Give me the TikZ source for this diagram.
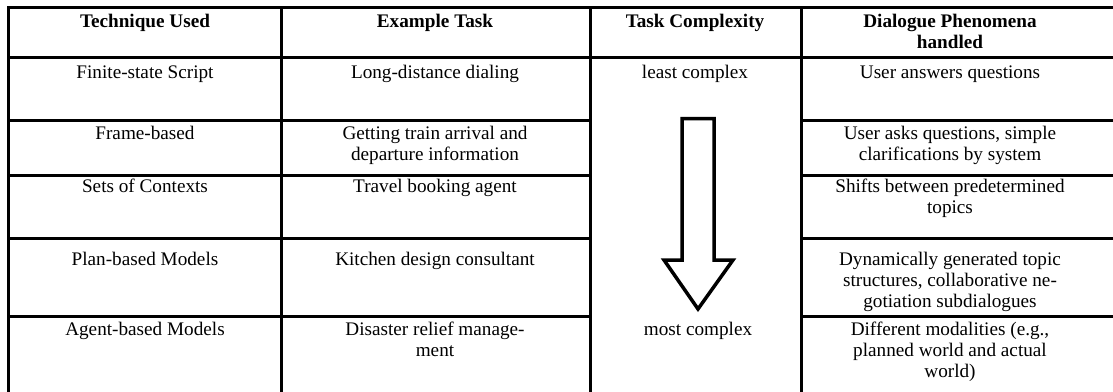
\documentclass[tikz,border=0pt]{standalone}
\usepackage{fontspec}
\setmainfont{Liberation Serif}
\begin{document}
\begin{tikzpicture}[x=1pt,y=1pt,
  grid/.style={line width=3pt, line cap=rect},
  cell/.style={anchor=north, align=center, inner sep=0pt, font=\fontsize{19.2}{21}\selectfont},
  head/.style={cell, font=\fontsize{19.2}{21}\selectfont\bfseries},
  bigarrow/.style={line width=3.5pt, line join=miter, fill=white}]
\useasboundingbox (0,0) rectangle (1113,-391);
% frame and column rules
\draw[grid] (8.5,-393) -- (8.5,-7.5) -- (1115,-7.5);
\draw[grid] (8.5,-57) -- (1115,-57);
\foreach \yy in {120,175,238,316}{
  \draw[grid] (8.5,-\yy) -- (590,-\yy);
  \draw[grid] (801,-\yy) -- (1115,-\yy);
}
\foreach \xx in {281,590,801}{
  \draw[grid] (\xx,-7.5) -- (\xx,-393);
}
% header (north of first-line strut = baseline - 14.7)
\node[head] (h1) at (145,-12.3) {\strut Technique Used};
\node[head] (h2) at (435,-12.3) {\strut Example Task};
\node[head] (h3) at (695,-12.3) {\strut Task Complexity};
\node[head] (h4) at (950,-12.3) {\strut Dialogue Phenomena\\handled};
% column 1
\node[cell] (t1) at (145,-63.3) {\strut Finite-state Script};
\node[cell] (t2) at (145,-124.3) {\strut Frame-based};
\node[cell] (t3) at (145,-177.3) {\strut Sets of Contexts};
\node[cell] (t4) at (145,-250.3) {\strut Plan-based Models};
\node[cell] (t5) at (145,-320.3) {\strut Agent-based Models};
% column 2
\node[cell] (e1) at (435,-63.3) {\strut Long-distance dialing};
\node[cell] (e2) at (435,-124.3) {\strut Getting train arrival and\\departure information};
\node[cell] (e3) at (435,-177.3) {\strut Travel booking agent};
\node[cell] (e4) at (435,-250.3) {\strut Kitchen design consultant};
\node[cell] (e5) at (435,-320.3) {\strut Disaster relief manage-\\ment};
% column 3
\node[cell] (c1) at (695,-63.3) {\strut least complex};
\node[cell] (c5) at (698,-320.3) {\strut most complex};
\draw[bigarrow] (682,-118.5) -- (714,-118.5) -- (714,-260) -- (733,-260)
  -- (698,-309) -- (664,-260) -- (682,-260) -- cycle;
% column 4
\node[cell] (d1) at (950,-63.3) {\strut User answers questions};
\node[cell] (d2) at (950,-124.3) {\strut User asks questions, simple\\clarifications by system};
\node[cell] (d3) at (950,-177.3) {\strut Shifts between predetermined\\topics};
\node[cell] (d4) at (950,-250.3) {\strut Dynamically generated topic\\structures, collaborative ne-\\gotiation subdialogues};
\node[cell] (d5) at (950,-320.3) {\strut Different modalities (e.g.,\\planned world and actual\\world)};
\end{tikzpicture}
\end{document}
